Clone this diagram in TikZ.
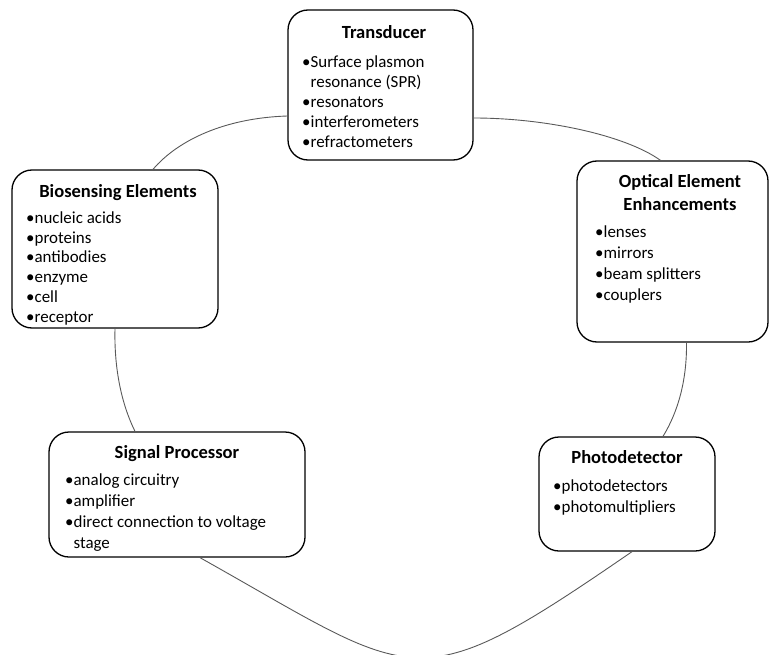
\documentclass[tikz,border=0pt]{standalone}
\usepackage{fontspec}
\setmainfont{Carlito}
\begin{document}
\begin{tikzpicture}[x=1bp,y=-1bp,
  box/.style={draw=black, line width=1.3bp, rounded corners=20bp, fill=white, inner sep=0},
  ttl/.style={font=\fontsize{18.6}{22.5}\selectfont\bfseries, inner sep=0, anchor=base, align=center},
  items/.style={font=\fontsize{17}{20.3}\selectfont, inner sep=0, anchor=base west, align=left},
  link/.style={draw=black!65, line width=0.9bp}]
\useasboundingbox (0,0) rectangle (770,655);

% boxes
\node[box, minimum width=185bp, minimum height=150bp] (trans) at (380.5,85) {};
\node[box, minimum width=206bp, minimum height=158bp] (bio) at (115,249) {};
\node[box, minimum width=191bp, minimum height=181bp] (opt) at (672.5,251.5) {};
\node[box, minimum width=256bp, minimum height=125bp] (sig) at (177,494.5) {};
\node[box, minimum width=176bp, minimum height=114bp] (pho) at (627,494) {};

% connectors
\draw[link] ([yshift=-31bp]trans.west) .. controls (225,118) and (178,140) .. ([xshift=38bp]bio.north);
\draw[link] ([yshift=-33bp]trans.east) .. controls (545,118) and (625,135) .. ([xshift=-12bp]opt.north);
\draw[link] ([xshift=14bp]opt.south) .. controls (687,380) and (678,412) .. ([xshift=36bp]pho.north);
\draw[link] ([xshift=0bp]bio.south) .. controls (114,370) and (122,405) .. ([xshift=-42bp]sig.north);
\begin{scope}
\clip (0,0) rectangle (770,655);
\draw[link] ([xshift=23bp]sig.south) .. controls (420,681) and (412,703) .. ([xshift=5bp]pho.south);
\end{scope}

% texts (multi-line nodes are placed at the baseline of their last line)
\node[ttl] (transT) at (384,39) {Transducer};
\node[items] (transI) at (302,148) {•Surface plasmon\\\hphantom{•}resonance (SPR)\\•resonators\\•interferometers\\•refractometers};

\node[ttl] (bioT) at (118,197) {Biosensing Elements};
\node[items, font=\fontsize{17}{19.8}\selectfont] (bioI) at (26,322) {•nucleic acids\\•proteins\\•antibodies\\•enzyme\\•cell\\•receptor};

\node[ttl] (optT) at (680,210) {Optical Element\\Enhancements};
\node[items, font=\fontsize{17}{21}\selectfont] (optI) at (595,300) {•lenses\\•mirrors\\•beam splitters\\•couplers};

\node[ttl] (sigT) at (177,458) {Signal Processor};
\node[items, font=\fontsize{17}{21}\selectfont] (sigI) at (65,548) {•analog circuitry\\•amplifier\\•direct connection to voltage\\\hphantom{•}stage};

\node[ttl] (phoT) at (627,463) {Photodetector};
\node[items] (phoI) at (553,512) {•photodetectors\\•photomultipliers};
\end{tikzpicture}
\end{document}
